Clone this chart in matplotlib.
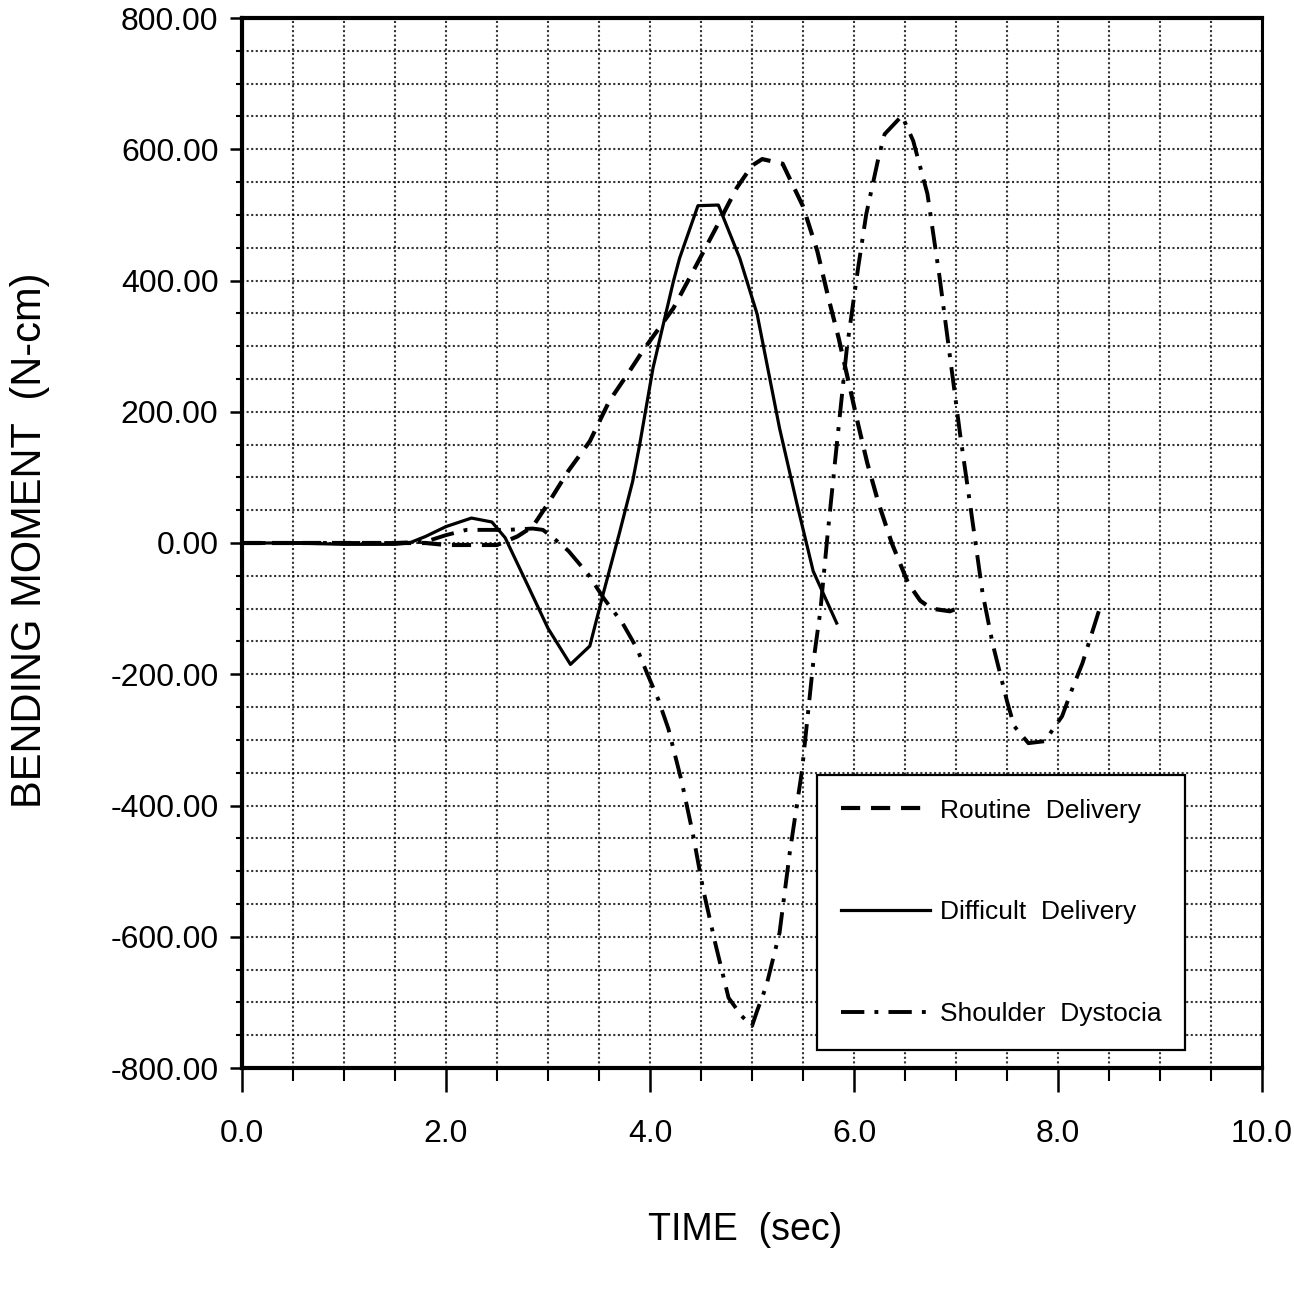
import matplotlib
matplotlib.use("Agg")
import matplotlib.pyplot as plt
from matplotlib.ticker import MultipleLocator, FormatStrFormatter
from matplotlib import font_manager

names = {f.name for f in font_manager.fontManager.ttflist}
NARROW = ['Liberation Sans Narrow', 'Liberation Sans', 'DejaVu Sans'] if 'Liberation Sans Narrow' in names else ['Liberation Sans', 'DejaVu Sans']
REG = ['Liberation Sans', 'DejaVu Sans']

# ---- data ----
routine_t = [0, 0.5, 1.0, 1.5, 1.8, 2.0, 2.3, 2.5, 2.7, 2.85, 3.0, 3.2, 3.41, 3.6, 3.8,
             3.93, 4.23, 4.46, 4.64, 4.85, 5.0, 5.1, 5.3, 5.5, 5.64, 5.75, 5.85, 5.93,
             6.04, 6.13, 6.24, 6.37, 6.53, 6.65, 6.76, 6.94, 7.06]
routine_v = [0, 0, 0, 0, 0, -3, -3, -3, 10, 25, 60, 110, 155, 216, 262,
             293, 358, 425, 478, 541, 575, 585, 578, 513, 445, 373, 312, 257,
             181, 122, 61, 0, -61, -88, -100, -104, -97]

difficult_t = [0, 0.5, 1.0, 1.5, 1.64, 1.8, 2.0, 2.25, 2.45, 2.58, 2.8, 3.0, 3.22, 3.41,
               3.54, 3.7, 3.83, 3.90, 4.03, 4.23, 4.29, 4.47, 4.67, 4.88, 5.05, 5.27,
               5.44, 5.6, 5.83]
difficult_v = [0, 0, -2, -2, 0, 10, 25, 38, 32, 8, -64, -130, -185, -157,
               -78, 15, 94, 151, 267, 399, 434, 514, 515, 434, 349, 175,
               60, -43, -122]

shoulder_t = [0, 0.5, 1.0, 1.5, 1.8, 2.0, 2.2, 2.4, 2.6, 2.85, 2.95, 3.05, 3.2, 3.39,
              3.55, 3.73, 3.87, 3.97, 4.08, 4.18, 4.31, 4.42, 4.52, 4.64, 4.77, 4.9,
              5.0, 5.05, 5.14, 5.27, 5.37, 5.49, 5.6, 5.67, 5.74, 5.82, 5.93, 6.04,
              6.12, 6.24, 6.30, 6.47, 6.58, 6.72, 6.84, 6.94, 7.04, 7.15, 7.26, 7.36,
              7.5, 7.57, 7.71, 7.87, 8.04, 8.14, 8.24, 8.41]
shoulder_v = [0, 0, 0, 0, 2, 12, 20, 20, 20, 22, 20, 8, -12, -47,
              -85, -122, -160, -198, -238, -283, -363, -443, -527, -610, -693, -721,
              -736, -713, -675, -594, -472, -347, -183, -104, 11, 133, 297, 419,
              501, 587, 623, 651, 613, 532, 404, 285, 166, 46, -76, -154,
              -241, -279, -305, -302, -264, -222, -183, -99]

labels = ['Routine  Delivery', 'Difficult  Delivery', 'Shoulder  Dystocia']
x_label = 'TIME  (sec)'
y_label = 'BENDING MOMENT  (N-cm)'

fig = plt.figure(figsize=(12.94, 12.90), dpi=100)
ax = fig.add_axes([242/1294, 1-1068/1290, 1020/1294, 1050/1290])

ax.plot(routine_t, routine_v, color='black', lw=3.0, dashes=(4.6, 2.6),
        label=labels[0])
ax.plot(difficult_t, difficult_v, color='black', lw=2.3, label=labels[1])
ax.plot(shoulder_t, shoulder_v, color='black', lw=2.8, dashes=(6.0, 2.6, 1.0, 2.6),
        label=labels[2])

ax.set_xlim(0, 10)
ax.set_ylim(-800, 800)
ax.xaxis.set_major_locator(MultipleLocator(2))
ax.xaxis.set_minor_locator(MultipleLocator(0.5))
ax.yaxis.set_major_locator(MultipleLocator(200))
ax.yaxis.set_minor_locator(MultipleLocator(50))
ax.xaxis.set_major_formatter(FormatStrFormatter('%.1f'))
ax.yaxis.set_major_formatter(FormatStrFormatter('%.2f'))

ax.grid(True, which='both', color='black', linestyle=(0, (1, 1.2)), linewidth=1.5, alpha=0.8)
ax.set_axisbelow(True)

ax.tick_params(axis='x', which='major', direction='out', length=17, width=1.8, pad=20,
               labelsize=23)
ax.tick_params(axis='x', which='minor', direction='out', length=9, width=1.5)
ax.tick_params(axis='y', which='major', direction='out', length=9, width=1.8, pad=8,
               labelsize=23)
ax.tick_params(axis='y', which='minor', direction='out', length=4, width=1.5)
for lab in ax.get_xticklabels() + ax.get_yticklabels():
    lab.set_family(NARROW)

for s in ['left', 'top', 'bottom']:
    ax.spines[s].set_linewidth(3.0)
ax.spines['right'].set_linewidth(2.2)

leg = ax.legend(loc='lower right', bbox_to_anchor=((1185-242)/1020, (1068-1050)/1050),
                borderaxespad=0, frameon=True, fancybox=False, edgecolor='black',
                handlelength=3.4, handletextpad=0.35, labelspacing=2.95,
                borderpad=0.9, prop={'family': NARROW, 'size': 19})
leg.get_frame().set_linewidth(1.6)
leg.get_frame().set_alpha(1)

ax.set_xlabel(x_label, fontsize=27, family=NARROW)
ax.xaxis.set_label_coords((745-242)/1020, -(1212-1068)/1050)
ax.set_ylabel(y_label, fontsize=30, family=REG, va='center')
ax.yaxis.set_label_coords(-(242-30)/1020, (1068-540)/1050)

fig.savefig('out.png', dpi=100, facecolor='white')
